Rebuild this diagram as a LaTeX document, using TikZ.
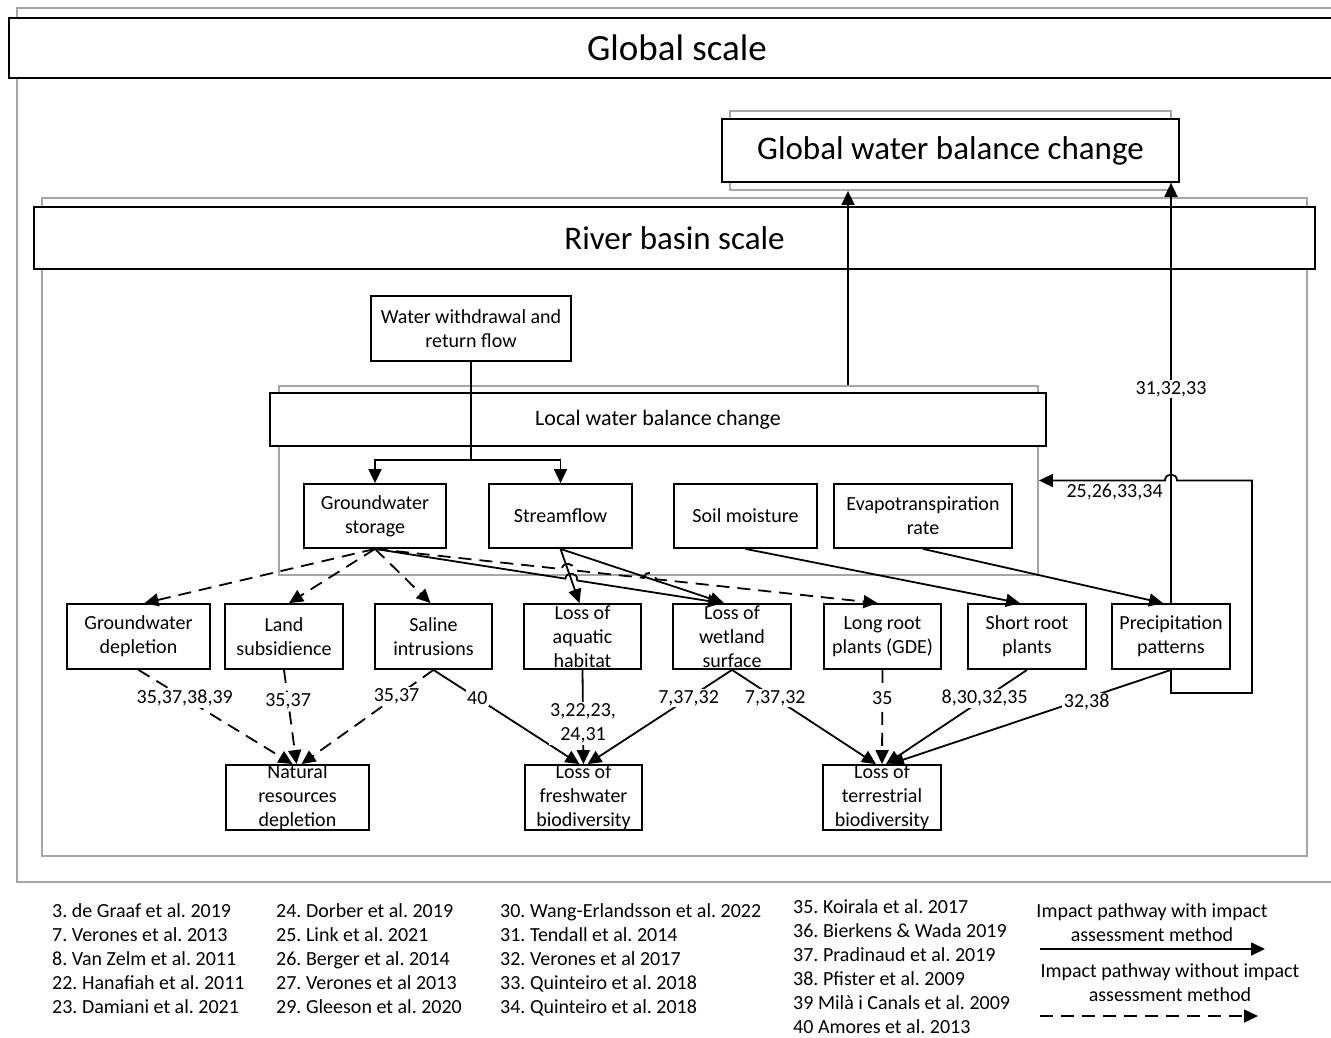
\documentclass[tikz,border=0pt]{standalone}
\usepackage{fontspec}
\setmainfont{Carlito}
\usepackage{xcolor}
\usetikzlibrary{arrows.meta,positioning,calc,intersections}
\frenchspacing

\begin{document}
\begin{tikzpicture}[
  x=1pt, y=-1pt,
  font=\fontsize{20}{24}\selectfont,
  box/.style={draw, line width=1.8pt, align=center, minimum height=65pt, inner sep=0pt, fill=white},
  scaleframe/.style={draw=black!35, line width=1.8pt, inner sep=0pt},
  lbl/.style={fill=white, inner sep=1.5pt, align=center},
  arrow/.style={-{Triangle[length=14pt, width=13pt]}, line width=1.8pt},
  dashedarrow/.style={arrow, dash pattern=on 13pt off 8pt}
]
  \useasboundingbox (0,0) rectangle (1331,1037);

  % global scale
  \node[scaleframe, minimum width=1323pt, minimum height=874pt] (globalframe) at (678.5,445) {};
  \node[box, minimum width=1336pt, minimum height=60pt, font=\fontsize{37}{44}\selectfont] (globalbar) at (677,48) {Global scale};
  \node[scaleframe, minimum width=441pt, minimum height=79pt] (gwbframe) at (950.5,150.5) {};
  \node[box, minimum width=457pt, minimum height=63pt, font=\fontsize{33}{40}\selectfont] (gwb) at (950.5,150.5) {Global water balance change};

  % river basin scale
  \node[scaleframe, minimum width=1265pt, minimum height=658pt] (basinframe) at (674.5,527) {};
  \node[box, minimum width=1281pt, minimum height=62pt, font=\fontsize{33}{40}\selectfont] (basinbar) at (674.5,238) {River basin scale};
  \node[box, minimum width=200pt] (withdrawal) at (471,328.5) {Water withdrawal and\\return flow};

  % local scale
  \node[scaleframe, minimum width=759pt, minimum height=189pt] (localframe) at (658.5,480.5) {};
  \node[box, minimum width=776pt, minimum height=53pt, font=\fontsize{22}{26}\selectfont] (localbar) at (658,419.5) {Local water balance change};
  \node[box, minimum width=142pt, minimum height=64pt] (gwstore) at (375,516) {Groundwater\\storage};
  \node[box, minimum width=143pt, minimum height=64pt] (streamflow) at (560.5,516) {Streamflow};
  \node[box, minimum width=143pt, minimum height=64pt] (soil) at (745.5,516) {Soil moisture};
  \node[box, minimum width=178pt, minimum height=64pt] (evapo) at (923,516) {Evapotranspiration\\rate};

  % impacts
  \node[box, minimum width=143pt] (gwdepl) at (138.5,636.5) {Groundwater\\depletion};
  \node[box, minimum width=118pt] (landsub) at (284,636.5) {Land\\subsidience};
  \node[box, minimum width=117pt] (saline) at (433.5,636.5) {Saline\\intrusions};
  \node[box, minimum width=117pt] (aquatic) at (582.5,636.5) {Loss of\\aquatic\\habitat};
  \node[box, minimum width=118pt] (wetland) at (732,636.5) {Loss of\\wetland\\surface};
  \node[box, minimum width=117pt] (longroot) at (882.5,636.5) {Long root\\plants (GDE)};
  \node[box, minimum width=118pt] (shortroot) at (1027,636.5) {Short root\\plants};
  \node[box, minimum width=118pt] (precip) at (1171,636.5) {Precipitation\\patterns};

  % endpoints
  \node[box, minimum width=143pt] (natres) at (297.5,797.5) {Natural\\resources\\depletion};
  \node[box, minimum width=117pt] (freshbio) at (583.5,797.5) {Loss of\\freshwater\\biodiversity};
  \node[box, minimum width=118pt] (terrbio) at (882,797.5) {Loss of\\terrestrial\\biodiversity};

  % withdrawal into local balance
  \draw[arrow] (withdrawal.south) -- ++(0,98) -| (gwstore.north);
  \draw[arrow] (withdrawal.south) -- ++(0,98) -| (streamflow.north);

  % up to global scale
  \draw[arrow] ([xshift=189.5pt]localframe.north) -- ([xshift=189.5pt]localframe.north |- gwbframe.south);
  \draw[arrow] (precip.north) -- node[lbl, pos=0.51] {31,32,33} (precip.north |- gwb.south);
  \draw[arrow] (precip.south) -- ++(0,23) -| ([xshift=81pt]precip.south |- localframe.east)
    -- ([xshift=6pt]precip.north |- localframe.east) .. controls +(0,-8) and +(0,-8) .. ([xshift=-6pt]precip.north |- localframe.east)
    -- node[below, pos=0.4, inner sep=3pt] {25,26,33,34} (localframe.east);

  % local balance to impacts
  \coordinate (wetin) at ([xshift=-10pt]wetland.north);
  \coordinate (longin) at ([xshift=-5pt]longroot.north);
  \draw[arrow] (evapo.south) -- ([xshift=-8pt]precip.north);
  \draw[arrow] (soil.south) -- ([xshift=-7pt]shortroot.north);
  \draw[arrow, name path=sfaq] (streamflow.south) -- ([xshift=-3pt]aquatic.north);
  \draw[arrow, name path=sfwet] (streamflow.south) -- ([xshift=-8pt]wetland.north);
  \draw[dashedarrow] (gwstore.south) -- ([xshift=6pt]gwdepl.north);
  \draw[dashedarrow] (gwstore.south) -- ([xshift=5pt]landsub.north);
  \draw[dashedarrow] (gwstore.south) -- ([xshift=-3pt]saline.north);

  % line jumps
  \path[name path=gwwet] (gwstore.south) -- (wetin);
  \path[name path=gwlong] (gwstore.south) -- (longin);
  \path[name intersections={of=gwwet and sfaq, by=jumpA}];
  \path[name intersections={of=gwlong and sfaq, by=jumpB}];
  \path[name intersections={of=gwlong and sfwet, by=jumpC}];
  \coordinate (jumpAin) at ($(jumpA)!6pt!(gwstore.south)$);
  \coordinate (jumpAout) at ($(jumpA)!6pt!(wetin)$);
  \coordinate (jumpBin) at ($(jumpB)!6pt!(gwstore.south)$);
  \coordinate (jumpBout) at ($(jumpB)!6pt!(longin)$);
  \coordinate (jumpCin) at ($(jumpC)!6pt!(gwstore.south)$);
  \coordinate (jumpCout) at ($(jumpC)!6pt!(longin)$);
  \draw[arrow] (gwstore.south) -- (jumpAin)
    .. controls ($(jumpAin)!8pt!90:(jumpAout)$) and ($(jumpAout)!8pt!-90:(jumpAin)$) .. (jumpAout) -- (wetin);
  \draw[dashedarrow] (gwstore.south) -- (jumpBin)
    .. controls ($(jumpBin)!8pt!90:(jumpBout)$) and ($(jumpBout)!8pt!-90:(jumpBin)$) .. (jumpBout) -- (jumpCin)
    .. controls ($(jumpCin)!8pt!90:(jumpCout)$) and ($(jumpCout)!8pt!-90:(jumpCin)$) .. (jumpCout) -- (longin);

  % impacts to endpoints
  \draw[dashedarrow] (gwdepl.south) -- node[lbl, pos=0.3] {35,37,38,39} ([xshift=-5pt]natres.north);
  \draw[dashedarrow] (landsub.south) -- node[lbl, pos=0.33] {35,37} ([xshift=-1pt]natres.north);
  \draw[dashedarrow] (saline.south) -- node[lbl, pos=0.28] {35,37} ([xshift=4pt]natres.north);
  \draw[arrow] (saline.south) -- node[lbl, pos=0.3] {40} ([xshift=-4pt]freshbio.north);
  \draw[arrow] (aquatic.south) -- node[lbl, pos=0.57] {3,22,23,\\24,31} (freshbio.north);
  \draw[arrow] (wetland.south) -- node[lbl, pos=0.3] {7,37,32} ([xshift=4pt]freshbio.north);
  \draw[arrow] (wetland.south) -- node[lbl, pos=0.3] {7,37,32} ([xshift=-6pt]terrbio.north);
  \draw[dashedarrow] (longroot.south) -- node[lbl, pos=0.3] {35} (terrbio.north);
  \draw[arrow] (shortroot.south) -- node[lbl, pos=0.3] {8,30,32,35} ([xshift=4pt]terrbio.north);
  \draw[arrow] (precip.south) -- node[lbl, pos=0.3, yshift=-4pt] {32,38} ([xshift=8pt]terrbio.north);

  % references
  \node[anchor=north west, align=left, inner sep=0pt] (refsA) at (52,903) {3. de Graaf et al. 2019\\7. Verones et al. 2013\\8. Van Zelm et al. 2011\\22. Hanafiah et al. 2011\\23. Damiani et al. 2021};
  \node[anchor=north west, align=left, inner sep=0pt] (refsB) at (276,903) {24. Dorber et al. 2019\\25. Link et al. 2021\\26. Berger et al. 2014\\27. Verones et al 2013\\29. Gleeson et al. 2020};
  \node[anchor=north west, align=left, inner sep=0pt] (refsC) at (500,903) {30. Wang-Erlandsson et al. 2022\\31. Tendall et al. 2014\\32. Verones et al 2017\\33. Quinteiro et al. 2018\\34. Quinteiro et al. 2018};
  \node[anchor=north west, align=left, inner sep=0pt] (refsD) at (793,899) {35. Koirala et al. 2017\\36. Bierkens \& Wada 2019\\37. Pradinaud et al. 2019\\38. Pfister et al. 2009\\39 Milà i Canals et al. 2009\\40 Amores et al. 2013};

  % legend
  \node[align=center, inner sep=0pt] (legsolid) at (1152,923) {Impact pathway with impact\\assessment method};
  \node[align=center, inner sep=0pt] (legdashed) at (1170,983) {Impact pathway without impact\\assessment method};
  \coordinate (solidstart) at (1040,949);
  \coordinate (solidend) at (1265,949);
  \coordinate (dashstart) at (1040,1016);
  \coordinate (dashend) at (1258,1016);
  \draw[arrow] (solidstart) -- (solidend);
  \draw[dashedarrow] (dashstart) -- (dashend);
\end{tikzpicture}
\end{document}
